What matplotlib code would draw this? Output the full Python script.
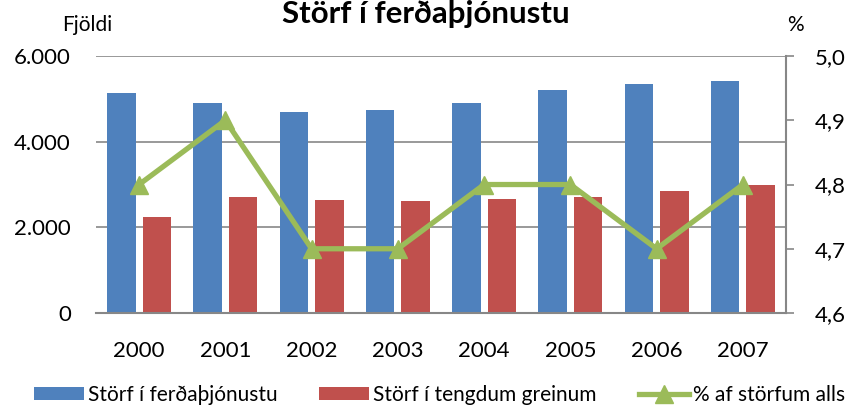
import matplotlib
matplotlib.use("Agg")
import matplotlib.pyplot as plt
import numpy as np
from matplotlib.ticker import FuncFormatter

plt.rcParams['font.family'] = ['Lato', 'DejaVu Sans']

# data
years = ['2000', '2001', '2002', '2003', '2004', '2005', '2006', '2007']
storf_ferda = [5135, 4905, 4685, 4735, 4895, 5205, 5345, 5410]
storf_tengd = [2250, 2710, 2635, 2615, 2655, 2700, 2850, 2980]
hlutfall = [4.8, 4.9, 4.7, 4.7, 4.8, 4.8, 4.7, 4.8]

blue = '#4F81BD'
red = '#C0504D'
green = '#9BBB59'
grey = '#878787'

fig = plt.figure(figsize=(8.53, 4.09), dpi=100)
ax = fig.add_axes([0.1125, 0.2347, 0.809, 0.6283])
x = np.arange(len(years))
w = 0.33
b1 = ax.bar(x - 0.205, storf_ferda, w, color=blue, label='Störf í ferðaþjónustu', zorder=2)
b2 = ax.bar(x + 0.205, storf_tengd, w, color=red, label='Störf í tengdum greinum', zorder=2)
ax.set_xlim(-0.5, len(years) - 0.5)
ax.set_ylim(0, 6000)
ax.set_yticks([0, 2000, 4000, 6000])
ax.yaxis.set_major_formatter(FuncFormatter(lambda v, p: f'{int(v):,}'.replace(',', '.')))
ax.set_xticks(x)
ax.set_xticklabels(years)
ax.grid(axis='y', color=grey, linewidth=1.2, zorder=0)
for s in ['top', 'right', 'left']:
    ax.spines[s].set_visible(False)
ax.spines['bottom'].set_color(grey)
ax.spines['bottom'].set_linewidth(1.5)
ax.tick_params(axis='x', length=0, pad=20, labelsize=16)
ax.tick_params(axis='y', length=0, pad=18, labelsize=16)

ax2 = ax.twinx()
l1, = ax2.plot(x, hlutfall, color=green, linewidth=3.8, marker='^', markersize=13,
               label='% af störfum alls', zorder=3)
ax2.set_ylim(4.6, 5.0)
ax2.set_yticks([4.6, 4.7, 4.8, 4.9, 5.0])
ax2.yaxis.set_major_formatter(FuncFormatter(lambda v, p: f'{v:.1f}'.replace('.', ',')))
for s in ['top', 'left', 'bottom']:
    ax2.spines[s].set_visible(False)
ax2.spines['right'].set_color(grey)
ax2.spines['right'].set_linewidth(1.5)
ax2.tick_params(axis='y', length=6, width=1.2, color=grey, pad=15, labelsize=16)

fig.text(0.4994, 0.944, 'Störf í ferðaþjónustu', ha='center', va='baseline',
         fontsize=22.5, fontweight='bold')
fig.text(0.102, 0.94, 'Fjöldi', ha='center', va='center', fontsize=15)
fig.text(0.932, 0.94, '%', ha='center', va='center', fontsize=15)

fig.legend(handles=[b1, b2, l1], loc='center', bbox_to_anchor=(0.515, 0.035), ncol=3,
           frameon=False, fontsize=15, handlelength=2.4, handleheight=0.6,
           handletextpad=0.2, columnspacing=2.0)

fig.savefig('out.png', dpi=100)
